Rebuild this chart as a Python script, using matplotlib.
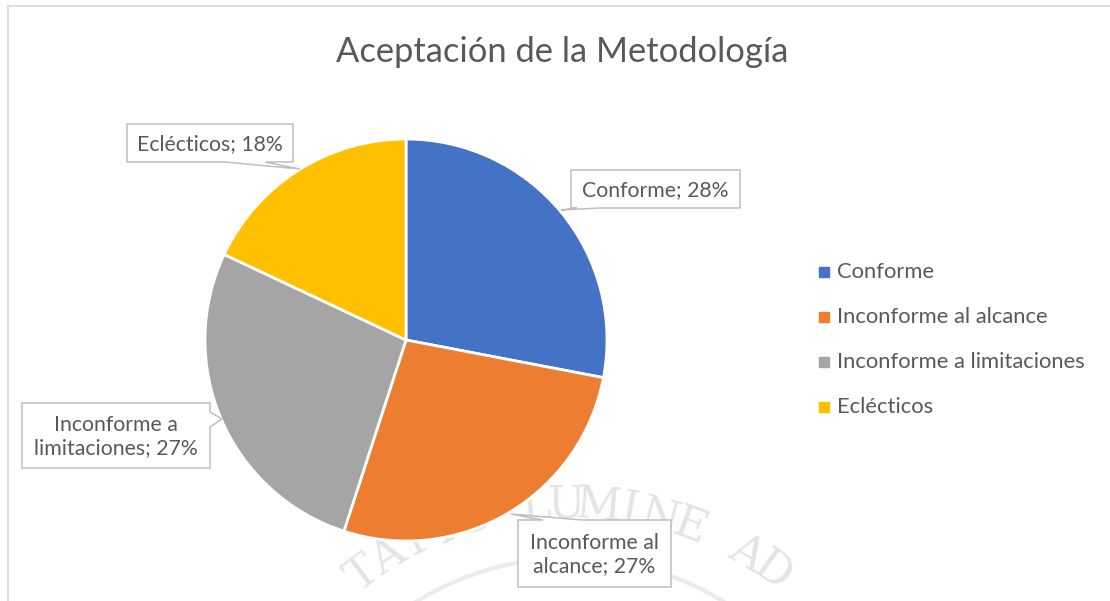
import matplotlib.pyplot as plt
import numpy as np
from matplotlib.patches import Polygon

plt.rcParams['font.family'] = ['Lato', 'DejaVu Sans']

categorias = ['Conforme', 'Inconforme al alcance', 'Inconforme a limitaciones', 'Eclécticos']
porcentajes = [28, 27, 27, 18]
etiquetas = ['Conforme; 28%', 'Inconforme al\nalcance; 27%', 'Inconforme a\nlimitaciones; 27%', 'Eclécticos; 18%']
colores = ['#4472C4', '#ED7D31', '#A5A5A5', '#FFC000']
titulo = 'Aceptación de la Metodología'
marca_agua = 'TATIS LUMINE AD'

W, H = 1110, 601
gris = '#595959'

fig = plt.figure(figsize=(W / 100, H / 100), dpi=100)


def eje_pixeles(z):
    ax = fig.add_axes([0, 0, 1, 1], zorder=z)
    ax.set_xlim(0, W)
    ax.set_ylim(H, 0)
    ax.axis('off')
    ax.patch.set_alpha(0)
    return ax


fondo = eje_pixeles(0)
# marco del grafico
fondo.plot([8, W], [6, 6], color='#d9d9d9', lw=1.2)
fondo.plot([8, 8], [6, H], color='#d9d9d9', lw=1.2)

# marca de agua en arco
cx, cy, r = 570, 850, 345
angulos = np.linspace(127, 54, len(marca_agua))
for letra, a in zip(marca_agua, angulos):
    t = np.radians(a)
    fondo.text(cx + r * np.cos(t), cy - r * np.sin(t), letra, rotation=a - 90,
               ha='center', va='center', fontsize=32, family='DejaVu Serif',
               color='#e4e4e4')
tt = np.linspace(np.radians(145), np.radians(35), 200)
fondo.plot(cx + 292 * np.cos(tt), cy - 292 * np.sin(tt), color='#ebebeb', lw=3)

# pastel
pc_x, pc_y, rad = 406, 340, 201
ax = fig.add_axes([(pc_x - rad) / W, (H - pc_y - rad) / H, 2 * rad / W, 2 * rad / H], zorder=1)
ax.pie(porcentajes, colors=colores, startangle=90, counterclock=False, radius=1,
       wedgeprops=dict(edgecolor='white', linewidth=2))
ax.set_xlim(-1, 1)
ax.set_ylim(-1, 1)
ax.patch.set_alpha(0)

frente = eje_pixeles(2)
frente.text(562, 52, titulo, ha='center', va='center', fontsize=24.8, color=gris)

# cuadros de etiqueta (caja, lado del piquito, base, punta)
cajas = [
    ((571, 170, 740, 208), 'bottom', (577, 600), (561, 210)),
    ((518, 520, 671, 587), 'top', (543, 582), (511, 514)),
    ((22, 403, 210, 468), 'right', (412, 427), (222, 419)),
    ((127, 124, 293, 162), 'bottom', (225, 265), (300, 169)),
]


def globo(caja, lado, base, punta):
    x0, y0, x1, y1 = caja
    b0, b1 = base
    if lado == 'bottom':
        v = [(x0, y0), (x1, y0), (x1, y1), (b1, y1), punta, (b0, y1), (x0, y1)]
    elif lado == 'top':
        v = [(x0, y0), (b0, y0), punta, (b1, y0), (x1, y0), (x1, y1), (x0, y1)]
    else:
        v = [(x0, y0), (x1, y0), (x1, b0), punta, (x1, b1), (x1, y1), (x0, y1)]
    frente.add_patch(Polygon(v, closed=True, facecolor='white', edgecolor='#bfbfbf', lw=1.1))


for etq, (caja, lado, base, punta) in zip(etiquetas, cajas):
    globo(caja, lado, base, punta)
    frente.text((caja[0] + caja[2]) / 2, (caja[1] + caja[3]) / 2 + 1, etq, ha='center', va='center',
                fontsize=15.3, color=gris, linespacing=1.2)

# leyenda
for i, (cat, col) in enumerate(zip(categorias, colores)):
    y = 272 + 45 * i
    frente.plot(824, y, marker='s', markersize=7, color=col, linestyle='none')
    frente.text(837, y, cat, ha='left', va='center', fontsize=15.8, color=gris)

fig.savefig('out.png', dpi=100)
